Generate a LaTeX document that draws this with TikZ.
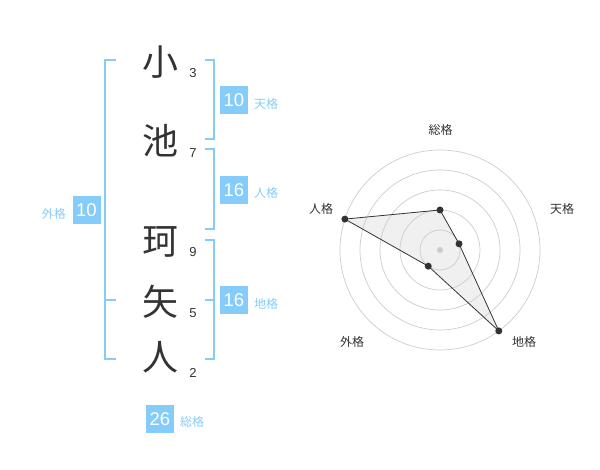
\documentclass[tikz,border=0pt]{standalone}
\usepackage{fontspec}
\setmainfont{Liberation Sans}
\newfontfamily\jp{Noto Sans CJK JP}
\definecolor{sky}{HTML}{85CCFA}
\definecolor{ink}{HTML}{333333}
\definecolor{ringc}{HTML}{CCCCCC}
\definecolor{polyfill}{HTML}{F0F0F0}
\tikzset{
  kanji/.style={inner sep=0pt, text=ink, font=\jp\fontsize{36}{36}\selectfont},
  strokes/.style={inner sep=0pt, text=ink, font=\fontsize{13}{13}\selectfont},
  numbox/.style={fill=sky, text=white, minimum size=28pt, inner sep=0pt, font=\fontsize{18.5}{18.5}\selectfont},
  lab/.style={inner sep=0pt, text=sky, font=\jp\fontsize{12}{12}\selectfont},
  br/.style={draw=sky, line width=1.8pt},
  ring/.style={draw=ringc, line width=0.7pt},
  radlab/.style={inner sep=0pt, text=ink, font=\jp\fontsize{12}{12}\selectfont},
  dot/.style={circle, fill=ink, minimum size=7pt, inner sep=0pt},
}
\begin{document}
\begin{tikzpicture}[x=1pt,y=-1pt]
\useasboundingbox (0,0) rectangle (600,470);
% kanji
\node[kanji] (k1) at (160,62) {小};
\node[kanji] (k2) at (160,141) {池};
\node[kanji] (k3) at (160,242) {珂};
\node[kanji] (k4) at (160,302) {矢};
\node[kanji] (k5) at (160,357) {人};
% stroke counts
\node[strokes] (s1) at (193,73) {3};
\node[strokes] (s2) at (193,153) {7};
\node[strokes] (s3) at (193,252) {9};
\node[strokes] (s4) at (193,313) {5};
\node[strokes] (s5) at (193,373) {2};
% brackets
\draw[br] (116,60) -- (105,60) -- (105,359) -- (116,359);
\draw[br] (105,300) -- (116,300);
\draw[br] (205,60) -- (214,60) -- (214,139) -- (205,139);
\draw[br] (205,149) -- (214,149) -- (214,229) -- (205,229);
\draw[br] (205,240) -- (214,240) -- (214,359) -- (205,359);
\draw[br] (205,300) -- (214,300);
% boxes
\node[numbox] (ten) at (234,100) {10};
\node[lab, anchor=west] (tenl) at (254,104) {天格};
\node[numbox] (jin) at (234,190) {16};
\node[lab, anchor=west] (jinl) at (254,193) {人格};
\node[numbox] (gai) at (86.5,210) {10};
\node[lab, anchor=east] (gail) at (66,214) {外格};
\node[numbox] (chi) at (234,300) {16};
\node[lab, anchor=west] (chil) at (254,304) {地格};
\node[numbox] (sou) at (160,419) {26};
\node[lab, anchor=west] (soul) at (180,422) {総格};
% radar
\coordinate (c) at (440,250);
\path (c) ++(-90:40) coordinate (p1);
\path (c) ++(-18:20) coordinate (p2);
\path (c) ++(54:100) coordinate (p3);
\path (c) ++(126:20) coordinate (p4);
\path (c) ++(-162:100) coordinate (p5);
\fill[polyfill] (p1) -- (p2) -- (p3) -- (p4) -- (p5) -- cycle;
\foreach \r in {20,40,60,80,100} \draw[ring] (c) circle[radius=\r pt];
\fill[ringc] (c) circle[radius=3pt];
\node[dot] (d1) at (p1) {};
\node[dot] (d2) at (p2) {};
\node[dot] (d3) at (p3) {};
\node[dot] (d4) at (p4) {};
\node[dot] (d5) at (p5) {};
\draw[ink, line width=0.8pt] (d1.center) -- (d2.center) -- (d3.center) -- (d4.center) -- (d5.center) -- cycle;
\node[radlab] (r1) at (440.7,130) {総格};
\node[radlab] (r2) at (562,209) {天格};
\node[radlab] (r3) at (524,342) {地格};
\node[radlab] (r4) at (352,342) {外格};
\node[radlab] (r5) at (321,209) {人格};
\end{tikzpicture}
\end{document}
